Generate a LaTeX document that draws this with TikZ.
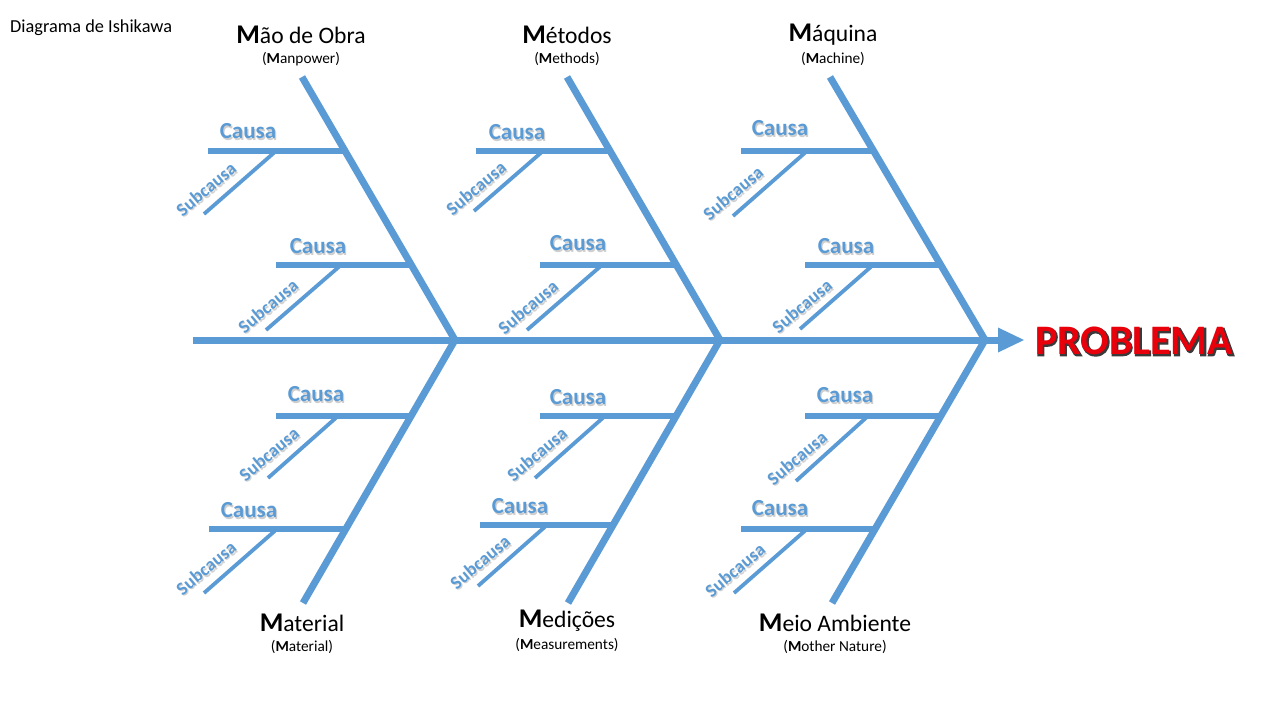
\documentclass[tikz,border=0pt]{standalone}
\usepackage{fontspec}
\setmainfont{Carlito}
\newfontfamily\probdark{Carlito}[FakeBold=3.5]
\usetikzlibrary{calc}
\definecolor{bone}{HTML}{5B9BD5}
\definecolor{ctext}{HTML}{5B9BD5}
\definecolor{pred}{HTML}{E8000B}
\definecolor{pdark}{HTML}{3A3A3A}
\tikzset{
  spineline/.style={draw=bone, line width=7pt},
  boneline/.style={draw=bone, line width=7pt},
  causeline/.style={draw=bone, line width=6.5pt},
  subline/.style={draw=bone, line width=3.8pt},
  causatxt/.style={text=ctext, inner sep=0pt, font=\fontsize{23}{25}\selectfont\bfseries},
  causashd/.style={text=black!35, opacity=0.55, inner sep=0pt, font=\fontsize{23}{25}\selectfont\bfseries},
  subtxt/.style={text=ctext, inner sep=0pt, rotate=40, font=\fontsize{18.5}{20}\selectfont\bfseries},
  subshd/.style={text=black!35, opacity=0.5, inner sep=0pt, rotate=40, font=\fontsize{18.5}{20}\selectfont\bfseries},
  cattxt/.style={inner sep=0pt, font=\fontsize{23.6}{25}\selectfont},
  engtxt/.style={inner sep=0pt, font=\fontsize{15.3}{17}\selectfont},
  probtxt/.style={inner sep=0pt, font=\fontsize{42}{44}\selectfont\bfseries},
  probdarktxt/.style={inner sep=0pt, text=pdark, font=\fontsize{42}{44}\selectfont\probdark\bfseries},
}
\newcommand\bigM[1]{{\fontsize{27}{28}\selectfont\bfseries #1}}
\newcommand\causalabel[2]{%
  \node[causashd] at ($(#2)+(1.3,1.6)$) {Causa};
  \node[causatxt] (#1) at (#2) {Causa};}
\newcommand\sublabel[2]{%
  \node[subshd] at ($(#2)+(1.2,1.5)$) {Subcausa};
  \node[subtxt] (#1) at (#2) {Subcausa};}
\begin{document}
\begin{tikzpicture}[x=1pt,y=-1pt]
\useasboundingbox (0,0) rectangle (1280,720);
\fill[white] (0,0) rectangle (1280,720);

% title
\node[anchor=west, inner sep=0pt, font=\fontsize{18.3}{20}\selectfont] (title) at (10,28) {Diagrama de Ishikawa};

% spine
\coordinate (tail) at (193,340);
\coordinate (J1) at (455,340);
\coordinate (J2) at (720,340);
\coordinate (J3) at (985,340);
\coordinate (head) at (1000,340);
\draw[spineline] (tail) -- (head);
\fill[bone] (998,327.5) -- (1024,340) -- (998,352.5) -- cycle;

% main bones
\coordinate (T1) at (302,77);  \coordinate (B1) at (303,603);
\coordinate (T2) at (567,77);  \coordinate (B2) at (568,603);
\coordinate (T3) at (830,77);  \coordinate (B3) at (832,603);
\draw[boneline] (T1) -- (J1) -- (B1);
\draw[boneline] (T2) -- (J2) -- (B2);
\draw[boneline] (T3) -- (J3) -- (B3);

% causes: start / end
\foreach \n/\xa/\y/\xb in {UL1/208/151/345, UL2/276/265/411,
                          UM1/476/151/610, UM2/540/265/676,
                          UR1/741/151/874, UR2/805/265/941,
                          LL1/276/416/411, LL2/209/529/346,
                          LM1/540/416/676, LM2/480/525/613,
                          LR1/805/416/941, LR2/741/529/875}{
  \coordinate (\n s) at (\xa,\y);
  \coordinate (\n e) at (\xb,\y);
  \draw[causeline] (\n s) -- (\n e);
}

% subcauses: top / bottom
\foreach \n/\xa/\ya/\xb/\yb in {UL1/276/151/204/214, UL2/341/265/266/330,
                              UM1/543/151/474/211, UM2/602/265/527/330,
                              UR1/807/151/733/216, UR2/873/265/800/329,
                              LL1/338/416/268/478, LL2/277/529/204/593,
                              LM1/605/416/535/478, LM2/547/525/478/586,
                              LR1/868/416/796/481, LR2/807/529/734/593}{
  \coordinate (\n t) at (\xa,\ya);
  \coordinate (\n b) at (\xb,\yb);
  \draw[subline] (\n t) -- (\n b);
}

% cause labels
\coordinate (cUL1) at (248,131); \causalabel{lUL1}{cUL1}
\coordinate (cUL2) at (318,246); \causalabel{lUL2}{cUL2}
\coordinate (cUM1) at (517,132); \causalabel{lUM1}{cUM1}
\coordinate (cUM2) at (578,243); \causalabel{lUM2}{cUM2}
\coordinate (cUR1) at (780,128); \causalabel{lUR1}{cUR1}
\coordinate (cUR2) at (846,246); \causalabel{lUR2}{cUR2}
\coordinate (cLL1) at (316,394); \causalabel{lLL1}{cLL1}
\coordinate (cLL2) at (249,510); \causalabel{lLL2}{cLL2}
\coordinate (cLM1) at (578,397); \causalabel{lLM1}{cLM1}
\coordinate (cLM2) at (520,506); \causalabel{lLM2}{cLM2}
\coordinate (cLR1) at (845,395); \causalabel{lLR1}{cLR1}
\coordinate (cLR2) at (780,508); \causalabel{lLR2}{cLR2}

% subcause labels
\coordinate (sUL1) at (206,189); \sublabel{tUL1}{sUL1}
\coordinate (sUL2) at (268,306); \sublabel{tUL2}{sUL2}
\coordinate (sUM1) at (476,188); \sublabel{tUM1}{sUM1}
\coordinate (sUM2) at (528,307); \sublabel{tUM2}{sUM2}
\coordinate (sUR1) at (733,193); \sublabel{tUR1}{sUR1}
\coordinate (sUR2) at (802,306); \sublabel{tUR2}{sUR2}
\coordinate (sLL1) at (269,454); \sublabel{tLL1}{sLL1}
\coordinate (sLL2) at (206,568); \sublabel{tLL2}{sLL2}
\coordinate (sLM1) at (537,454); \sublabel{tLM1}{sLM1}
\coordinate (sLM2) at (480,562); \sublabel{tLM2}{sLM2}
\coordinate (sLR1) at (797,458); \sublabel{tLR1}{sLR1}
\coordinate (sLR2) at (735,570); \sublabel{tLR2}{sLR2}

% category labels
\node[cattxt] (mao) at (301,35) {\bigM{M}ão de Obra};
\node[engtxt] (maoE) at (301,59) {(\textbf{M}anpower)};
\node[cattxt] (met) at (567,35) {\bigM{M}étodos};
\node[engtxt] (metE) at (567,59) {(\textbf{M}ethods)};
\node[cattxt] (maq) at (833,35) {\bigM{M}áquina};
\node[engtxt] (maqE) at (833,59) {(\textbf{M}achine)};
\node[cattxt] (mat) at (302,623) {\bigM{M}aterial};
\node[engtxt] (matE) at (302,647) {(\textbf{M}aterial)};
\node[cattxt] (med) at (567,621) {\bigM{M}edições};
\node[engtxt] (medE) at (567,645) {(\textbf{M}easurements)};
\node[cattxt] (mei) at (835,623) {\bigM{M}eio Ambiente};
\node[engtxt] (meiE) at (835,647) {(\textbf{M}other Nature)};

% problem
\coordinate (pc) at (1134,341);
\node[probdarktxt] (probbg) at ($(pc)+(0.8,1)$) {PROBLEMA};
\node[probtxt, text=pred] (prob) at (pc) {PROBLEMA};
\end{tikzpicture}
\end{document}
